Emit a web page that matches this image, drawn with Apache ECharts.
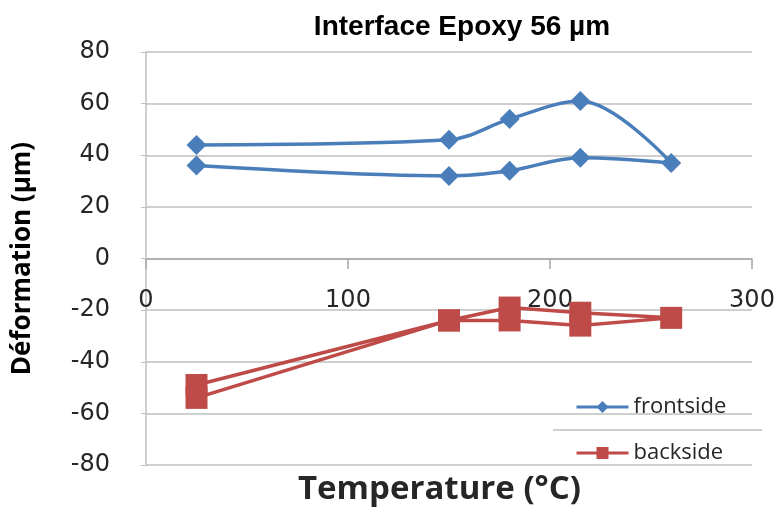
<!DOCTYPE html>
<html>
<head>
<meta charset="utf-8">
<script src="https://cdn.jsdelivr.net/npm/echarts@6/dist/echarts.min.js"></script>
<style>
  html, body { margin: 0; padding: 0; background: #fff; }
  #chart { width: 782px; height: 518px; }
</style>
</head>
<body>
<div id="chart"></div>
<script>
  // temperature cycle (heating then cooling), in °C
  var temps = [25, 150, 180, 215, 260, 215, 180, 150, 25];
  var frontside = [44, 46, 54, 61, 37, 39, 34, 32, 36];
  var backside = [-49, -24, -19, -21, -23, -26, -24, -24, -54];
  var yTicks = [-80, -60, -40, -20, 0, 20, 40, 60, 80];
  var xTicks = [0, 100, 200, 300];

  function pairs(xs, ys) {
    return xs.map(function (x, i) { return [x, ys[i]]; });
  }

  var myChart = echarts.init(document.getElementById('chart'));
  var tickFont = '"DejaVu Sans", sans-serif';
  var nameFont = '"Open Sans", sans-serif';
  var option = {
    animation: false,
    backgroundColor: '#fff',
    title: {
      text: 'Interface Epoxy 56 µm',
      left: 457,
      top: 8,
      textAlign: 'center',
      textStyle: {
        fontFamily: '"Liberation Sans", Arial, sans-serif',
        fontSize: 28,
        fontWeight: 'bold',
        color: '#000'
      }
    },
    grid: { left: 146, right: 30, top: 52, bottom: 53, outerBoundsMode: 'none' },
    legend: {
      orient: 'vertical',
      left: 570,
      top: 391,
      itemGap: 24,
      itemWidth: 52,
      itemHeight: 15,
      lineStyle: { width: 3 },
      textStyle: { fontFamily: nameFont, fontSize: 22, color: '#262626' },
      data: ['frontside', 'backside']
    },
    xAxis: {
      type: 'value',
      min: xTicks[0],
      max: xTicks[xTicks.length - 1],
      interval: 100,
      position: 'bottom',
      // axis crosses y = 0: 206 px above the bottom of the grid
      offset: -206,
      axisLine: { onZero: false, lineStyle: { color: '#a6a6a6', width: 1.5 } },
      axisTick: { show: true, length: 10, lineStyle: { color: '#a6a6a6', width: 1.5 } },
      axisLabel: { margin: 30, fontFamily: tickFont, fontSize: 24, color: '#262626', showMaxLabel: true },
      splitLine: { show: false }
    },
    yAxis: {
      type: 'value',
      min: yTicks[0],
      max: yTicks[yTicks.length - 1],
      interval: 20,
      name: 'Déformation (µm)',
      nameLocation: 'middle',
      nameGap: 110,
      nameTextStyle: { fontFamily: nameFont, fontSize: 26, fontWeight: 'bold', color: '#000' },
      axisLine: { show: true, lineStyle: { color: '#bfbfbf', width: 1.5 } },
      axisTick: { show: true, length: 5, lineStyle: { color: '#bfbfbf' } },
      axisLabel: { margin: 36, fontFamily: tickFont, fontSize: 24, color: '#262626' },
      splitLine: { show: true, lineStyle: { color: '#bfbfbf', width: 1.5 } }
    },
    graphic: [
      {
        type: 'line',
        shape: { x1: 553, y1: 430, x2: 762, y2: 430 },
        style: { stroke: '#bfbfbf', lineWidth: 1.5 }
      },
      {
        type: 'text',
        left: 298,
        top: 473,
        style: {
          text: 'Temperature (°C)',
          font: 'bold 33px "Open Sans", sans-serif',
          fill: '#262626'
        }
      }
    ],
    series: [
      {
        name: 'frontside',
        type: 'line',
        smooth: 0.35,
        data: pairs(temps, frontside),
        symbol: 'diamond',
        symbolSize: 20,
        color: '#4a7ebb',
        lineStyle: { width: 3.5, color: '#4a7ebb' },
        itemStyle: { color: '#4a7ebb' }
      },
      {
        name: 'backside',
        type: 'line',
        smooth: false,
        data: pairs(temps, backside),
        symbol: 'rect',
        symbolSize: 22,
        color: '#be4b48',
        lineStyle: { width: 3.5, color: '#be4b48' },
        itemStyle: { color: '#be4b48' }
      }
    ]
  };
  myChart.setOption(option);
</script>
</body>
</html>
